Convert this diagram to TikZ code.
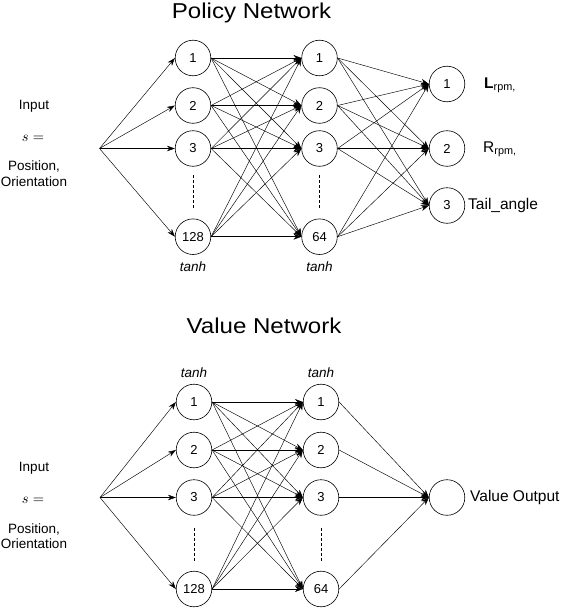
\documentclass[tikz,border=0pt]{standalone}
\usepackage{fontspec}
\setmainfont{Liberation Sans}
\usetikzlibrary{arrows.meta}
\begin{document}
\begin{tikzpicture}[x=1pt,y=-1pt,
  neuron/.style={circle,draw,line width=0.6pt,minimum size=35.6pt,inner sep=0pt,font=\fontsize{13}{15}\selectfont},
  conn/.style={line width=0.45pt,-{Stealth[length=8pt,width=6pt]}},
  inarr/.style={line width=0.45pt,-{Stealth[length=8pt,width=5.5pt]}},
  lbl/.style={anchor=base,font=\fontsize{13.5}{15}\selectfont,inner sep=0pt},
  mathlbl/.style={anchor=base,inner sep=0pt},
  actlbl/.style={anchor=base,font=\fontsize{13.5}{15}\selectfont\itshape,inner sep=0pt},
  outlbl/.style={anchor=west,font=\fontsize{15.5}{17}\selectfont,inner sep=0pt},
  ttl/.style={anchor=base,font=\fontsize{21.5}{24}\selectfont,inner sep=0pt},
  dots/.style={dashed,line width=0.5pt,dash pattern=on 3pt off 2pt}
]
\useasboundingbox (0,0) rectangle (566,610);

% ---------------- Policy Network ----------------
\node[ttl] (ptitle) at (251.5,18.3) {\scalebox{1.12}[1]{Policy Network}};

\coordinate (pin) at (99.5,148.5);
\node[lbl] (pinput) at (34,109) {Input};
\node[mathlbl] (ps) at (33,141) {\scalebox{1.45}{$s=$}};
\node[lbl] (ppos) at (34,170.5) {Position,};
\node[lbl] (pori) at (34,186) {Orientation};

\node[neuron] (pa1) at (193,58) {1};
\node[neuron] (pa2) at (193,105.5) {2};
\node[neuron] (pa3) at (193,148.5) {3};
\node[neuron] (pa4) at (193,236.7) {128};
\node[neuron] (pb1) at (319.5,58) {1};
\node[neuron] (pb2) at (319.5,105.5) {2};
\node[neuron] (pb3) at (319.5,148.5) {3};
\node[neuron] (pb4) at (319.5,236.7) {64};
\node[neuron] (po1) at (447,84) {1};
\node[neuron] (po2) at (447,148.5) {2};
\node[neuron] (po3) at (447,205.5) {3};

\coordinate (pda) at (193,175);
\coordinate (pdb) at (193,208);
\coordinate (pdc) at (319.5,175);
\coordinate (pdd) at (319.5,208);
\draw[dots] (pda) -- (pdb);
\draw[dots] (pdc) -- (pdd);

\node[actlbl] (ptanh1) at (193,271.5) {tanh};
\node[actlbl] (ptanh2) at (319.5,271.5) {tanh};

\node[outlbl] (pl1) at (484,85) {\textbf{L}\textsubscript{rpm,}};
\node[outlbl] (pl2) at (483,149) {R\textsubscript{rpm,}};
\node[outlbl] (pl3) at (468,205.5) {Tail\_angle};

\foreach \i in {1,2,3,4}{
  \draw[inarr] (pin) -- (pa\i.west);
}
\foreach \i in {1,2,3,4}{
  \foreach \j in {1,2,3,4}{
    \draw[conn] (pa\i.east) -- (pb\j.west);
  }
}
\draw[line width=1.4pt] (pa4.east) -- (pb4.west);
\foreach \i in {1,2,3,4}{
  \foreach \j in {1,2,3}{
    \draw[conn] (pb\i.east) -- (po\j.west);
  }
}

% ---------------- Value Network ----------------
\node[ttl] (vtitle) at (264,333) {\scalebox{1.12}[1]{Value Network}};

\coordinate (vin) at (100,497.5);
\node[lbl] (vinput) at (34,471.5) {Input};
\node[mathlbl] (vs) at (33,503) {\scalebox{1.45}{$s=$}};
\node[lbl] (vpos) at (34,533) {Position,};
\node[lbl] (vori) at (34,548.5) {Orientation};

\node[actlbl] (vtanh1) at (194,377.5) {tanh};
\node[actlbl] (vtanh2) at (321,377.5) {tanh};

\node[neuron] (va1) at (194,402) {1};
\node[neuron] (va2) at (194,450) {2};
\node[neuron] (va3) at (194,497.5) {3};
\node[neuron] (va4) at (194,589) {128};
\node[neuron] (vb1) at (321,402) {1};
\node[neuron] (vb2) at (321,450) {2};
\node[neuron] (vb3) at (321,497.5) {3};
\node[neuron] (vb4) at (321,589) {64};
\node[neuron] (vo) at (447,497.5) {};

\coordinate (vda) at (194,528);
\coordinate (vdb) at (194,562);
\coordinate (vdc) at (321,528);
\coordinate (vdd) at (321,562);
\draw[dots] (vda) -- (vdb);
\draw[dots] (vdc) -- (vdd);

\node[outlbl] (vlabel) at (470,497.5) {Value Output};

\foreach \i in {1,2,3,4}{
  \draw[inarr] (vin) -- (va\i.west);
}
\foreach \i in {1,2,3,4}{
  \foreach \j in {1,2,3,4}{
    \draw[conn] (va\i.east) -- (vb\j.west);
  }
}
\foreach \i in {1,2,3,4}{
  \draw[conn] (vb\i.east) -- (vo.west);
}
\end{tikzpicture}
\end{document}
